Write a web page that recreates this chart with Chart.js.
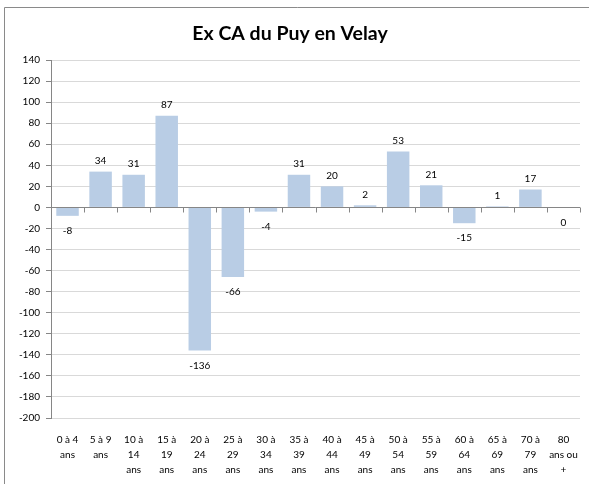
<!DOCTYPE html>
<html><head><meta charset="utf-8">
<script src="https://cdn.jsdelivr.net/npm/chart.js@4/dist/chart.umd.min.js"></script>
<style>html,body{margin:0;padding:0;background:#fff;}#wrap{position:absolute;left:0;top:0;width:589px;height:484px;}</style>
</head><body><div id="wrap"><canvas id="c" width="589" height="484"></canvas></div>
<script>
const titleText = "Ex CA du Puy en Velay";
const categories = [
  ["0 à 4","ans"],["5 à 9","ans"],["10 à","14","ans"],["15 à","19","ans"],["20 à","24","ans"],
  ["25 à","29","ans"],["30 à","34","ans"],["35 à","39","ans"],["40 à","44","ans"],["45 à","49","ans"],
  ["50 à","54","ans"],["55 à","59","ans"],["60 à","64","ans"],["65 à","69","ans"],["70 à","79","ans"],["80","ans ou","+"]
];
const values = [-8,34,31,87,-136,-66,-4,31,20,2,53,21,-15,1,17,-0.4];
const yMin = -200, yMax = 140, yStep = 20;

const FONT = "Lato, 'Open Sans', sans-serif";

const framePlugin = {
  id:'frame',
  beforeDraw(chart){
    const ctx = chart.ctx;
    ctx.save();
    ctx.strokeStyle = '#8a8a8a';
    ctx.lineWidth = 1;
    ctx.beginPath();
    ctx.moveTo(4.5, 600); ctx.lineTo(4.5, 7.5); ctx.lineTo(600, 7.5);
    ctx.stroke();
    ctx.restore();
  }
};

const zeroAxisPlugin = {
  id:'zeroAxis',
  afterDatasetsDraw(chart){
    const ctx = chart.ctx, x = chart.scales.x, y = chart.scales.y;
    const y0 = Math.round(y.getPixelForValue(0)) + 0.5;
    const half = (x.getPixelForValue(1) - x.getPixelForValue(0)) / 2;
    ctx.save();
    ctx.strokeStyle = '#868686';
    ctx.lineWidth = 1;
    ctx.beginPath();
    ctx.moveTo(chart.chartArea.left, y0); ctx.lineTo(chart.chartArea.right, y0);
    for (let i = 0; i <= categories.length; i++) {
      const px = Math.round(x.getPixelForValue(0) - half + i * 2 * half) + 0.5;
      ctx.moveTo(px, y0); ctx.lineTo(px, y0 + 5);
    }
    ctx.stroke();
    // data labels
    ctx.fillStyle = '#000';
    ctx.font = '10px ' + FONT;
    ctx.textAlign = 'center';
    ctx.textBaseline = 'middle';
    const meta = chart.getDatasetMeta(0);
    meta.data.forEach((bar, i) => {
      const v = values[i];
      const ly = v > 0 ? bar.y - 11 : y.getPixelForValue(Math.min(v,0)) + 15;
      ctx.fillText(String(Math.abs(Math.round(v)) === 0 ? 0 : Math.round(v)), bar.x, ly);
    });
    ctx.restore();
  }
};

new Chart(document.getElementById('c'), {
  type:'bar',
  data:{labels:categories, datasets:[{data:values, backgroundColor:'#B9CDE5', borderWidth:0, barPercentage:0.68, categoryPercentage:1, minBarLength:0}]},
  options:{
    responsive:false, animation:false,
    layout:{padding:{left:0, right:9, top:0, bottom:0}},
    plugins:{
      legend:{display:false}, tooltip:{enabled:false},
      title:{display:true, text:titleText, color:'#000', font:{family:FONT, size:19.5, weight:'bold', lineHeight:1.2}, padding:{top:22, bottom:14.6}}
    },
    scales:{
      x:{
        grid:{display:false}, border:{display:false},
        ticks:{color:'#000', font:{family:FONT, size:10, lineHeight:1.52}, padding:6, maxRotation:0, autoSkip:false},
        afterFit(s){ s.height = 66; }
      },
      y:{
        min:yMin, max:yMax,
        grid:{color:'#D9D9D9', tickColor:'#868686', tickLength:5},
        border:{color:'#868686'},
        ticks:{stepSize:yStep, color:'#000', font:{family:FONT, size:10}, padding:6},
        afterFit(s){ s.width = 51; }
      }
    }
  },
  plugins:[framePlugin, zeroAxisPlugin]
});
</script></body></html>
